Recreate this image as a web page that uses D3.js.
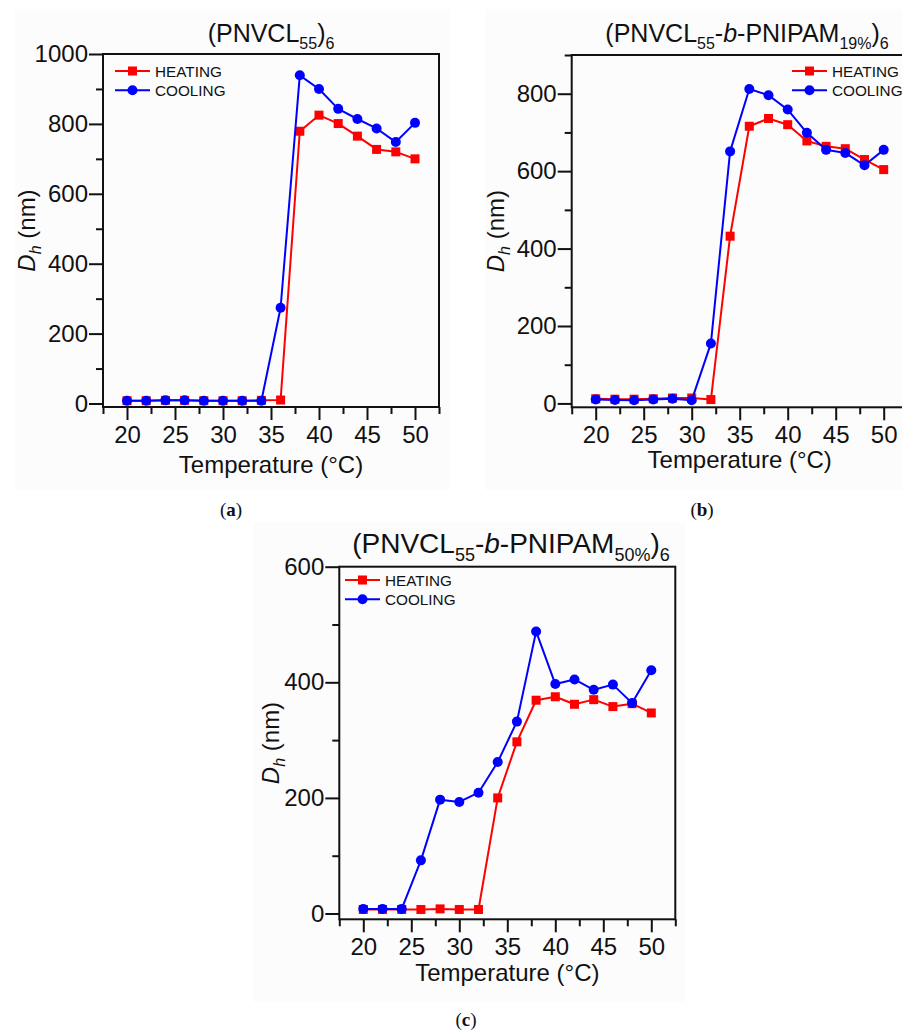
<!DOCTYPE html>
<html>
<head>
<meta charset="utf-8">
<script src="https://cdn.jsdelivr.net/npm/d3@7"></script>
<style>
  html, body { margin: 0; padding: 0; background: #ffffff; }
  svg { display: block; }
  text { font-family: "Liberation Sans", Arial, sans-serif; fill: #111; }
</style>
</head>
<body>
<svg id="chart" width="902" height="1032"></svg>
<script>
// Temperatures (°C) at which the hydrodynamic diameter was measured
const temperatures = [20, 22, 24, 26, 28, 30, 32, 34, 36, 38, 40, 42, 44, 46, 48, 50];

// (PNVCL55)6
const heatingA = [8, 8, 9, 9, 8, 8, 8, 9, 10, 779, 825, 801, 765, 727, 720, 700];
const coolingA = [8, 8, 9, 9, 8, 8, 8, 8, 274, 939, 900, 843, 814, 787, 748, 803];

// (PNVCL55-b-PNIPAM19%)6
const heatingB = [12, 11, 11, 12, 14, 14, 10, 432, 716, 736, 720, 678, 664, 658, 630, 604];
const coolingB = [10, 9, 8, 10, 12, 8, 155, 651, 812, 796, 759, 699, 655, 647, 615, 655];

// (PNVCL55-b-PNIPAM50%)6
const heatingC = [7, 7, 7, 7, 8, 7, 7, 200, 297, 369, 375, 362, 370, 358, 363, 347];
const coolingC = [8, 8, 8, 92, 197, 193, 209, 262, 332, 488, 397, 405, 387, 396, 364, 421];

// Axis ticks
const xDomain = [17.5, 52.5];
const xMajorTicks = [20, 25, 30, 35, 40, 45, 50];
const xMinorTicks = [17.5, 22.5, 27.5, 32.5, 37.5, 42.5, 47.5, 52.5];
const yTopA = 1000, yTopB = 900, yTopC = 600;
const yMajorA = [0, 200, 400, 600, 800, 1000];
const yMinorA = [100, 300, 500, 700, 900];
const yMajorB = [0, 200, 400, 600, 800];
const yMinorB = [100, 300, 500, 700, 900];
const yMajorC = [0, 200, 400, 600];
const yMinorC = [100, 300, 500];

const seriesNames = ["HEATING", "COOLING"];
const captions = ["a", "b", "c"];

const RED = "#ff0000";
const BLUE = "#0000ff";

const svg = d3.select("#chart");

// Panel layout
const panels = [
  {
    heating: heatingA, cooling: coolingA, yTop: yTopA, yMajor: yMajorA, yMinor: yMinorA,
    left: 103, top: 54, width: 336, height: 353,
    title: ["(PNVCL", "55", ")", "6"], titleX: 271, titleY: 42, titleSize: 25, subSize: 16,
    legend: { x: 115, y: 71 }, yLabelX: 27, xLabelDy: 66, caption: captions[0], capX: 231, capY: 516,
    bg: [15, 9, 435, 481]
  },
  {
    heating: heatingB, cooling: coolingB, yTop: yTopB, yMajor: yMajorB, yMinor: yMinorB,
    left: 571.7, top: 55, width: 336, height: 352.3,
    title: null, sub: "19%", titleX: 747, titleY: 42, titleSize: 25, subSize: 16,
    legend: { x: 792, y: 71 }, yLabelX: 496, xLabelDy: 61, caption: captions[1], capX: 702, capY: 516,
    bg: [485, 9, 417, 481]
  },
  {
    heating: heatingC, cooling: coolingC, yTop: yTopC, yMajor: yMajorC, yMinor: yMinorC,
    left: 339.3, top: 566.7, width: 336, height: 352.6,
    title: null, sub: "50%", titleX: 511, titleY: 553, titleSize: 28, subSize: 18,
    legend: { x: 345, y: 580 }, yLabelX: 271, xLabelDy: 61.5, caption: captions[2], capX: 466, capY: 1026,
    bg: [253, 522, 432, 480]
  }
];

panels.forEach(p => {
  // faint backdrop of each sub-figure
  svg.append("rect")
    .attr("x", p.bg[0]).attr("y", p.bg[1]).attr("width", p.bg[2]).attr("height", p.bg[3])
    .attr("fill", "#fcfcfc");

  const g = svg.append("g").attr("transform", `translate(${p.left},${p.top})`);
  const x = d3.scaleLinear().domain(xDomain).range([0, p.width]);
  const y = d3.scaleLinear().domain([-10, p.yTop]).range([p.height, 0]);

  // x axis: major and minor ticks
  const xMajor = g.append("g").attr("transform", `translate(0,${p.height})`)
    .call(d3.axisBottom(x).tickValues(xMajorTicks).tickSize(13).tickPadding(6).tickFormat(d3.format("d")));
  const xMinor = g.append("g").attr("transform", `translate(0,${p.height})`)
    .call(d3.axisBottom(x).tickValues(xMinorTicks).tickSize(7).tickFormat(""));
  // y axis
  const yMajor = g.append("g")
    .call(d3.axisLeft(y).tickValues(p.yMajor).tickSize(14).tickPadding(1).tickFormat(d3.format("d")));
  const yMinor = g.append("g")
    .call(d3.axisLeft(y).tickValues(p.yMinor).tickSize(7).tickFormat(""));

  [xMajor, xMinor, yMajor, yMinor].forEach(a => {
    a.select(".domain").remove();
    a.selectAll(".tick line").attr("stroke", "#111").attr("stroke-width", 2);
    a.selectAll(".tick text").attr("font-size", 24).attr("fill", "#111")
      .attr("font-family", "'Liberation Sans', Arial, sans-serif");
  });

  // plot frame
  g.append("rect").attr("x", 0).attr("y", 0).attr("width", p.width).attr("height", p.height)
    .attr("fill", "none").attr("stroke", "#111").attr("stroke-width", 2);

  // series
  const line = d3.line().x((d, i) => x(temperatures[i])).y(d => y(d));
  const drawSeries = (vals, color, shape) => {
    g.append("path").datum(vals).attr("d", line)
      .attr("fill", "none").attr("stroke", color).attr("stroke-width", 2)
      .attr("stroke-linejoin", "round");
    if (shape === "square") {
      g.selectAll(null).data(vals).enter().append("rect")
        .attr("x", (d, i) => x(temperatures[i]) - 4.5)
        .attr("y", d => y(d) - 4.5)
        .attr("width", 9).attr("height", 9).attr("fill", color);
    } else {
      g.selectAll(null).data(vals).enter().append("circle")
        .attr("cx", (d, i) => x(temperatures[i]))
        .attr("cy", d => y(d))
        .attr("r", 5).attr("fill", color);
    }
  };
  drawSeries(p.heating, RED, "square");
  drawSeries(p.cooling, BLUE, "circle");

  // legend
  const lg = svg.append("g").attr("transform", `translate(${p.legend.x},${p.legend.y})`);
  [[RED, "square"], [BLUE, "circle"]].forEach(([c, shape], i) => {
    const row = lg.append("g").attr("transform", `translate(0,${i * 19.3})`);
    row.append("line").attr("x1", 0).attr("x2", 35).attr("y1", 0).attr("y2", 0)
      .attr("stroke", c).attr("stroke-width", 2);
    if (shape === "square") {
      row.append("rect").attr("x", 17.5 - 4.5).attr("y", -4.5).attr("width", 9).attr("height", 9).attr("fill", c);
    } else {
      row.append("circle").attr("cx", 17.5).attr("cy", 0).attr("r", 5).attr("fill", c);
    }
    row.append("text").attr("x", 40).attr("y", 5.5).attr("font-size", 15.3).text(seriesNames[i]);
  });

  // title with subscripts
  const t = svg.append("text").attr("x", p.titleX).attr("y", p.titleY)
    .attr("text-anchor", "middle").attr("font-size", p.titleSize);
  const sd = p.subSize * 0.45;
  const sub = (txt) => t.append("tspan").attr("font-size", p.subSize).attr("dy", sd).text(txt);
  const up = (txt) => t.append("tspan").attr("dy", -sd).text(txt);
  t.append("tspan").text("(PNVCL");
  sub("55");
  if (p.title) {
    up(")");
    sub("6");
  } else {
    up("-");
    t.append("tspan").attr("font-style", "italic").text("b");
    t.append("tspan").text("-PNIPAM");
    sub(p.sub);
    up(")");
    sub("6");
  }

  // axis titles
  svg.append("text").attr("x", p.left + p.width / 2).attr("y", p.top + p.height + p.xLabelDy)
    .attr("text-anchor", "middle").attr("font-size", 24).text("Temperature (°C)");
  const yl = svg.append("text")
    .attr("transform", `translate(${p.yLabelX + 8},${p.top + p.height / 2}) rotate(-90)`)
    .attr("text-anchor", "middle").attr("font-size", 24);
  yl.append("tspan").attr("font-style", "italic").text("D");
  yl.append("tspan").attr("font-style", "italic").attr("font-size", 16).attr("dy", 6).text("h");
  yl.append("tspan").attr("dy", -6).text(" (nm)");

  // sub-figure caption
  const cap = svg.append("text").attr("x", p.capX).attr("y", p.capY).attr("text-anchor", "middle")
    .attr("font-size", 19).style("font-family", "'Liberation Serif', 'Times New Roman', serif");
  cap.append("tspan").text("(");
  cap.append("tspan").attr("font-weight", "bold").text(p.caption);
  cap.append("tspan").text(")");
});
</script>
</body>
</html>
